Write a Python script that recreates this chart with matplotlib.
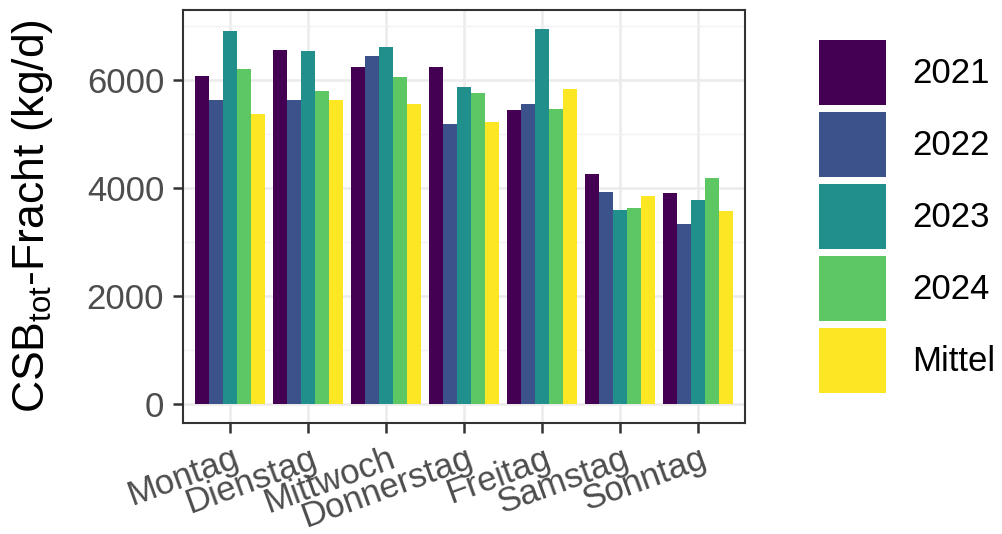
import matplotlib
matplotlib.use("Agg")
import matplotlib.pyplot as plt
import matplotlib.transforms as mtransforms
import numpy as np
from matplotlib.patches import Patch
from matplotlib.ticker import MultipleLocator

days = ["Montag", "Dienstag", "Mittwoch", "Donnerstag", "Freitag", "Samstag", "Sonntag"]
series = ["2021", "2022", "2023", "2024", "Mittel"]
v2021 = [6070, 6550, 6245, 6235, 5435, 4265, 3910]
v2022 = [5620, 5630, 6445, 5190, 5555, 3920, 3340]
v2023 = [6910, 6540, 6615, 5875, 6945, 3600, 3785]
v2024 = [6195, 5790, 6050, 5765, 5460, 3625, 4180]
vmittel = [5370, 5620, 5545, 5225, 5840, 3845, 3565]
colors = ["#440154", "#3B528B", "#21908C", "#5DC863", "#FDE725"]

values = [v2021, v2022, v2023, v2024, vmittel]

plt.rcParams['font.family'] = ['Liberation Sans', 'DejaVu Sans']

fig = plt.figure(figsize=(10.03, 5.34), dpi=100)
ax = fig.add_axes([183/1003, 1-423/534, (745-183)/1003, (423-10)/534])

x = np.arange(1, len(days)+1)
bw = 0.9/len(series)
for i, (vals, c) in enumerate(zip(values, colors)):
    ax.bar(x + (i-2)*bw, vals, width=bw, color=c, zorder=3, linewidth=0)

ymax = max(max(v) for v in values)
ax.set_ylim(-0.05*ymax, 1.05*ymax)
ax.set_xlim(0.4, len(days)+0.6)
ax.yaxis.set_major_locator(MultipleLocator(2000))
ax.yaxis.set_minor_locator(MultipleLocator(1000))
ax.set_xticks(x)
ax.set_xticklabels(days, rotation=20, ha='right', va='top', rotation_mode='anchor')
ax.grid(True, which='major', color='#EBEBEB', linewidth=1.8, zorder=0)
ax.grid(True, which='minor', axis='y', color='#F2F2F2', linewidth=1.0, zorder=0)
ax.set_axisbelow(True)
ax.tick_params(axis='both', which='major', labelsize=25, labelcolor='#4D4D4D',
               color='#333333', length=7.5, width=1.8)
ax.tick_params(axis='y', which='major', pad=6)
ax.tick_params(axis='x', which='major', pad=3)
ax.tick_params(axis='y', which='minor', length=0)
offset = mtransforms.ScaledTranslation(2/100, -4/100, fig.dpi_scale_trans)
for lab in ax.get_xticklabels():
    lab.set_transform(lab.get_transform() + offset)
for s in ax.spines.values():
    s.set_color('#333333')
    s.set_linewidth(1.5)
ax.set_ylabel(r"CSB$_{\mathregular{tot}}$-Fracht (kg/d)", fontsize=32, color='black', labelpad=23)

handles = [Patch(facecolor=c, edgecolor='none') for c in colors]
leg = fig.legend(handles, series, loc='upper left', bbox_to_anchor=(819/1003, 1-40/534),
                 frameon=False, fontsize=25, handlelength=1.93, handleheight=2.505,
                 labelspacing=0.2, handletextpad=0.75, borderpad=0, borderaxespad=0)

fig.savefig("out.png", dpi=100)
